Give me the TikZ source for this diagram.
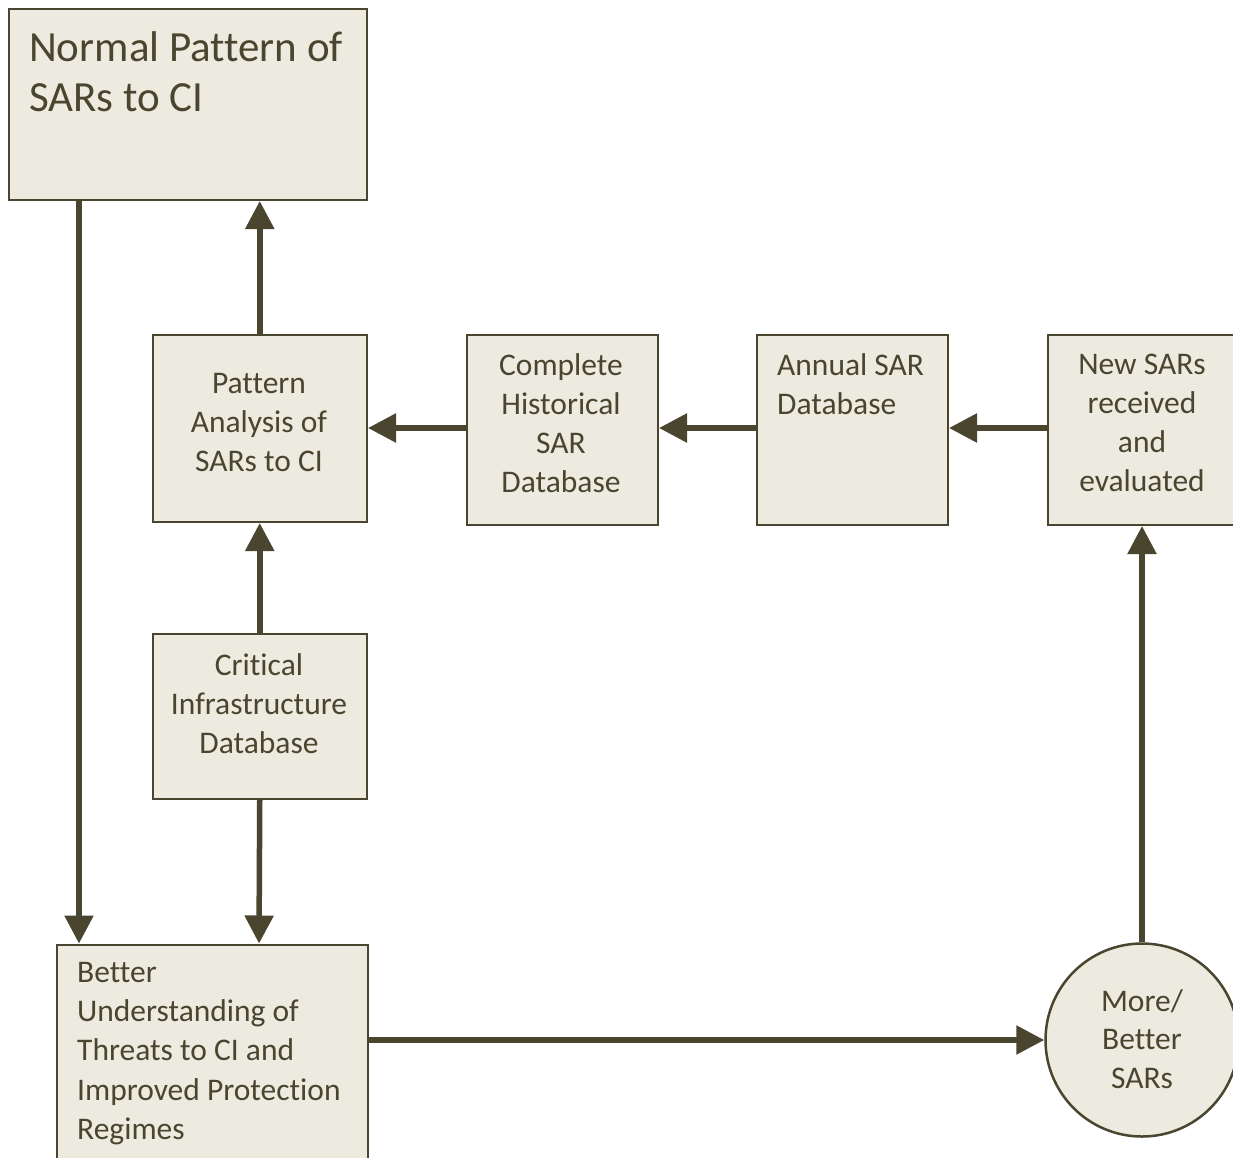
\documentclass[tikz,border=0pt]{standalone}
\usepackage{fontspec}
\setmainfont{Carlito}[Ligatures=NoCommon]
\usetikzlibrary{arrows.meta}
\definecolor{boxfill}{RGB}{237,234,224}
\definecolor{ink}{RGB}{74,69,46}
\begin{document}
\begin{tikzpicture}[x=1pt,y=-1pt,
  box/.style={draw=ink, fill=boxfill, line width=2.5pt, inner sep=0pt, anchor=north west},
  txt/.style={text=ink, inner sep=0pt, font=\fontsize{31.5}{38.8}\selectfont},
  bigtxt/.style={text=ink, inner sep=0pt, font=\fontsize{43}{50}\selectfont},
  conn/.style={draw=ink, line width=5.5pt, -{Triangle[length=28pt,width=28pt]}}
]
\clip (0,0) rectangle (1233,1157);
\fill[white] (0,0) rectangle (1233,1157);

% boxes
\node[box, minimum width=358pt, minimum height=191pt] (np) at (7.5,7.5) {};
\node[box, minimum width=214pt, minimum height=187pt] (pa) at (151.5,333.5) {};
\node[box, minimum width=191pt, minimum height=190pt] (ch) at (465.5,333.5) {};
\node[box, minimum width=191pt, minimum height=190pt] (an) at (755.5,333.5) {};
\node[box, minimum width=200pt, minimum height=190pt] (ns) at (1046.5,333.5) {};
\node[box, minimum width=214pt, minimum height=165pt] (ci) at (151.5,632.5) {};
\node[box, minimum width=311pt, minimum height=240pt] (bu) at (55.5,943.5) {};
\node[circle, draw=ink, fill=boxfill, line width=2.5pt, minimum size=193pt, inner sep=0pt] (mb) at (1142,1040) {};

% texts
\node[bigtxt, anchor=west, align=left] (npt) at (29,72) {Normal Pattern of\\SARs to CI};
\node[txt, align=center] (pat) at (259,422.5) {Pattern\\Analysis of\\SARs to CI};
\node[txt, align=center] (cht) at (561,423) {Complete\\Historical\\SAR\\Database};
\node[txt, anchor=west, align=left] (ant) at (777,384) {Annual SAR\\Database};
\node[txt, align=center] (nst) at (1142,423) {New SARs\\received\\and\\evaluated};
\node[txt, align=center] (cit) at (259,703.5) {Critical\\Infrastructure\\Database};
\node[txt, anchor=west, align=left, font=\fontsize{31.5}{39.1}\selectfont] (but) at (77,1053.5) {Better\\Understanding of\\Threats to CI and\\Improved Protection\\Regimes};
\node[txt, align=center] (mbt) at (1142,1039) {More/\\Better\\SARs};

% connectors
\coordinate (np1) at (79,199);
\coordinate (bu1) at (79,943.5);
\coordinate (bu2) at (259,943.5);
\draw[conn] (np1) -- (bu1);
\draw[conn] (pa.north) -- (np.south -| pa.north);
\draw[conn] (ci.north) -- (pa.south);
\draw[conn] (ci.south) -- (bu2);
\draw[conn] (ch.west |- 0,428) -- (pa.east |- 0,428);
\draw[conn] (an.west |- 0,428) -- (ch.east |- 0,428);
\draw[conn] (ns.west |- 0,428) -- (an.east |- 0,428);
\draw[conn] (bu.east |- mb.west) -- (mb.west);
\draw[conn] (mb.north) -- (ns.south -| mb.north);
\end{tikzpicture}
\end{document}
